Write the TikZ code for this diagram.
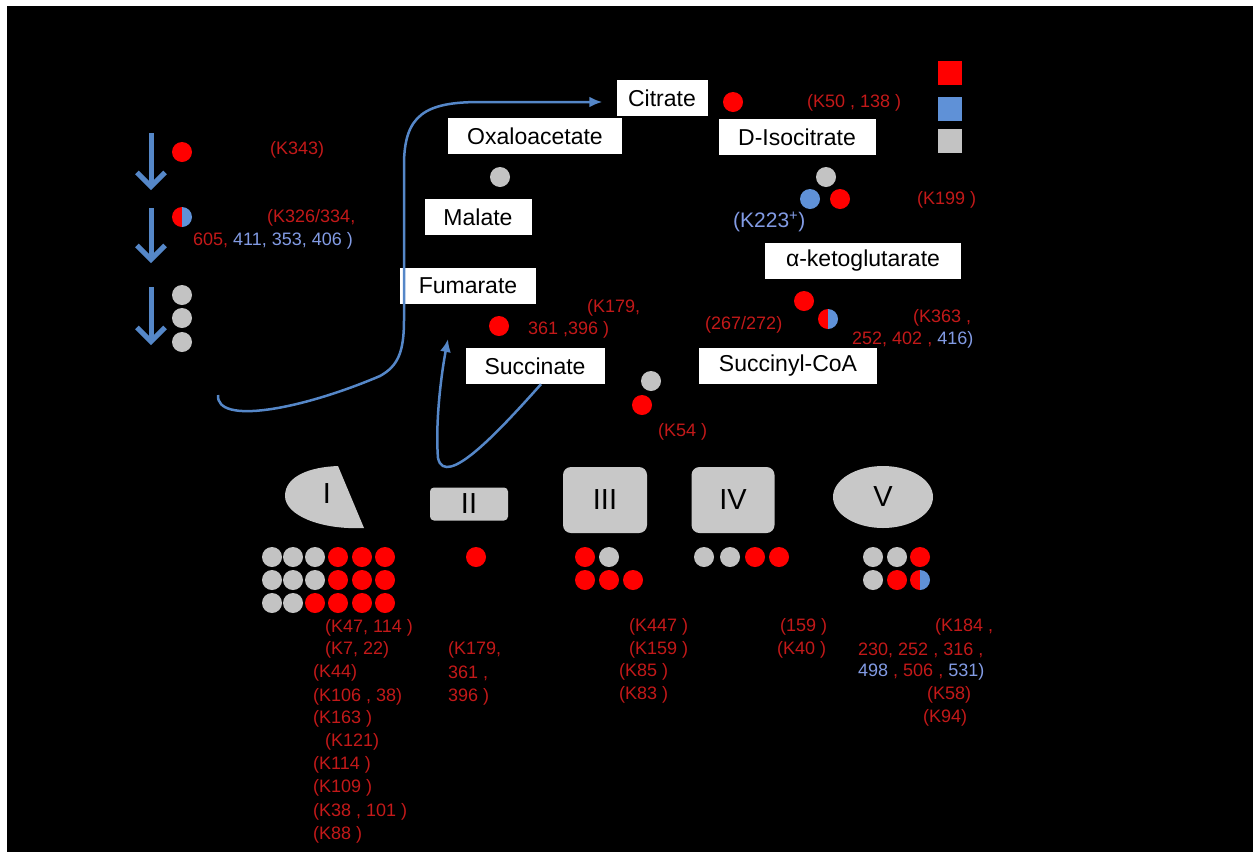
\documentclass[tikz,border=0pt]{standalone}
\usepackage{fontspec}
\setmainfont{Liberation Sans}
\usetikzlibrary{arrows.meta,shapes.geometric}
\definecolor{DotRed}{RGB}{255,0,0}
\definecolor{DotGray}{RGB}{195,195,195}
\definecolor{DotBlue}{RGB}{95,145,215}
\definecolor{FlowBlue}{RGB}{85,135,200}
\definecolor{LabRed}{RGB}{195,25,25}
\definecolor{LabBlue}{RGB}{130,155,228}
\definecolor{CplxGray}{RGB}{200,200,200}
\newcommand{\rdot}[2]{\fill[DotRed] (#1,#2) circle (10pt);}
\newcommand{\gdot}[2]{\fill[DotGray] (#1,#2) circle (10pt);}
\newcommand{\hdot}[2]{%
  \fill[DotRed] (#1,#2) ++(90:10pt) arc[start angle=90,end angle=270,radius=10pt] -- cycle;
  \fill[DotBlue] (#1,#2) ++(90:10pt) arc[start angle=90,end angle=-90,radius=10pt] -- cycle;}

\begin{document}
\begin{tikzpicture}[x=1pt,y=-1pt,
  met/.style={fill=white,text=black,font=\fontsize{23}{26}\selectfont,minimum height=36pt,inner sep=0pt},
  lab/.style={text=LabRed,font=\fontsize{18}{22}\selectfont,anchor=west,inner sep=0pt},
  cplx/.style={fill=CplxGray,text=black,font=\fontsize{29}{32}\selectfont,inner sep=0pt},
  flow/.style={FlowBlue,line width=2.5pt,-{Latex[length=13pt,width=11pt]}},
  drop/.style={FlowBlue,line width=5pt,-{Straight Barb[length=14pt,width=28pt]}}]
  \useasboundingbox (0,0) rectangle (1253,852);
  \fill[white] (0,0) rectangle (1253,852);
  \fill[black] (7,6) rectangle (1253,852);

  % TCA cycle
  \node[met,minimum width=91pt] (cit) at (662,98) {Citrate};
  \node[met,minimum width=174pt] (oaa) at (535,136) {Oxaloacetate};
  \node[met,minimum width=107pt] (mal) at (478,217) {Malate};
  \node[met,minimum width=157pt] (icit) at (797,137) {D-Isocitrate};
  \node[met,minimum width=196pt] (akg) at (863,261) {α-ketoglutarate};
  \node[met,minimum width=178pt] (sca) at (788,366) {Succinyl-CoA};
  \node[met,minimum width=136pt] (fum) at (468,286) {Fumarate};
  \node[met,minimum width=139pt] (suc) at (535,366) {Succinate};

  \coordinate (fatin) at (218,395);
  \coordinate (fumin) at (448,339);
  \draw[flow,shorten >=14pt] (fatin) .. controls (216,425) and (300,410) .. (380,376)
    .. controls (398,366) and (404,352) .. (404,320) -- (404,165)
    .. controls (404,115) and (425,102) .. (480,102) -- ([yshift=-4pt]cit.west);
  \draw[flow] ([xshift=6pt]suc.south) .. controls (500,430) and (445,490) .. (438,458)
    .. controls (435,420) and (442,370) .. (fumin);

  \rdot{733}{102}
  \gdot{500}{177}
  \gdot{826}{177} \fill[DotBlue] (810,199) circle (10pt); \rdot{840}{199}
  \rdot{804}{301} \hdot{828}{319}
  \rdot{499}{326}
  \gdot{651}{381} \rdot{642}{405}

  \node[lab] (k50) at (807,103) {(K50 , 138 )};
  \node[lab] (k199) at (917,200) {(K199 )};
  \node[lab,text=LabBlue,font=\fontsize{21}{24}\selectfont] (k223) at (733,222) {(K223\textsuperscript{+})};
  \node[lab] (k267) at (705,325) {(267/272)};
  \node[lab] (k363) at (913,318) {(K363 ,};
  \node[lab] (k252) at (852,340) {252, 402 , \textcolor{LabBlue}{416)}};
  \node[lab] (k179a) at (587,308) {(K179,};
  \node[lab] (k361a) at (528,330) {361 ,396 )};
  \node[lab] (k54) at (658,432) {(K54 )};

  % legend
  \fill[DotRed] (938,61) rectangle (962,85);
  \fill[DotBlue] (938,97) rectangle (962,121);
  \fill[DotGray] (938,129) rectangle (962,153);

  % fatty acid oxidation
  \foreach \ya/\yb in {133/190,208/263,287/345}
    \draw[drop] (151,\ya) -- (151,\yb);
  \rdot{182}{152}
  \hdot{182}{217}
  \gdot{182}{295} \gdot{182}{318} \gdot{182}{342}
  \node[lab] (k343) at (270,150) {(K343)};
  \node[lab] (k326) at (267,218) {(K326/334,};
  \node[lab] (k605) at (193,241) {605, \textcolor{LabBlue}{411, 353, 406 )}};

  % respiratory chain
  \fill[CplxGray] (338,466) -- (364,528) .. controls (320,530) and (285,515) .. (285,496)
    .. controls (285,476) and (310,467) .. (338,466) -- cycle;
  \node[cplx,fill=none] (c1) at (327,494) {I};
  \node[cplx,rounded corners=4pt,minimum width=78pt,minimum height=33pt] (c2) at (469,504) {II};
  \node[cplx,rounded corners=8pt,minimum width=84pt,minimum height=66pt] (c3) at (605,500) {III};
  \node[cplx,rounded corners=8pt,minimum width=83pt,minimum height=66pt] (c4) at (733,500) {IV};
  \node[cplx,ellipse,minimum width=100pt,minimum height=62pt] (c5) at (883,497) {V};

  \foreach \x in {272,293,315} {\gdot{\x}{557} \gdot{\x}{580}}
  \foreach \x in {338,362,385} {\rdot{\x}{557} \rdot{\x}{580} \rdot{\x}{603}}
  \gdot{272}{603} \gdot{293}{603} \rdot{315}{603}
  \rdot{476}{557}
  \rdot{585}{557} \gdot{609}{557} \rdot{585}{580} \rdot{609}{580} \rdot{633}{580}
  \gdot{704}{557} \gdot{730}{557} \rdot{755}{557} \rdot{779}{557}
  \gdot{873}{557} \gdot{897}{557} \rdot{920}{557}
  \gdot{873}{580} \rdot{897}{580} \hdot{920}{580}

  \foreach \t/\x/\y [count=\n] in {{(K47, 114 )}/325/628, {(K7, 22)}/325/650,
      (K44)/313/673, {(K106 , 38)}/313/697, (K163 )/313/719, (K121)/325/742,
      (K114 )/313/765, (K109 )/313/788, {(K38 , 101 )}/313/812, (K88 )/313/835}
    \node[lab] (lI\n) at (\x,\y) {\t};
  \node[lab] (lII1) at (448,650) {(K179,};
  \node[lab] (lII2) at (448,673) {361 ,};
  \node[lab] (lII3) at (448,697) {396 )};
  \node[lab] (lIII1) at (629,627) {(K447 )};
  \node[lab] (lIII2) at (629,650) {(K159 )};
  \node[lab] (lIII3) at (619,672) {(K85 )};
  \node[lab] (lIII4) at (619,695) {(K83 )};
  \node[lab] (lIV1) at (780,627) {(159 )};
  \node[lab] (lIV2) at (777,650) {(K40 )};
  \node[lab] (lV1) at (935,627) {(K184 ,};
  \node[lab] (lV2) at (858,650) {230, 252 , 316 ,};
  \node[lab] (lV3) at (858,672) {\textcolor{LabBlue}{498} , 506 , \textcolor{LabBlue}{531)}};
  \node[lab] (lV4) at (927,695) {(K58)};
  \node[lab] (lV5) at (923,718) {(K94)};
\end{tikzpicture}
\end{document}
